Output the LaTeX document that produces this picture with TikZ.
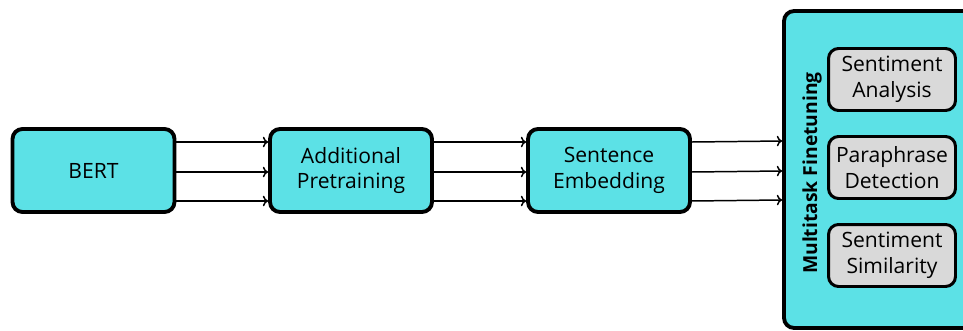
\documentclass[tikz,border=0pt]{standalone}
\usepackage{fontspec}
\setmainfont{Open Sans}
\usetikzlibrary{arrows.meta}

\begin{document}
\begin{tikzpicture}[x=0.02cm,y=-0.02cm,
    stage/.style={draw=black,line width=2.2pt,fill=myCyan,rounded corners=0.2cm,
        minimum width=3.24cm,minimum height=1.66cm,align=center,font=\fontsize{12}{14.5}\selectfont},
    task/.style={draw=black,line width=1.7pt,fill=myGray,rounded corners=0.2cm,
        minimum width=2.54cm,minimum height=1.24cm,align=center,font=\fontsize{12}{14.5}\selectfont},
    flow/.style={line width=0.85pt,-{To[length=3pt,width=6pt]}}]
% Colors define
\definecolor{myCyan}{HTML}{5CE1E6}
\definecolor{myGray}{HTML}{D9D9D9}

\useasboundingbox (0,0) rectangle (963,331);

% Pipeline stages
\node[stage] (bert) at (93.5,170.5) {BERT};
\node[stage] (pretrain) at (351,170.5) {Additional\\Pretraining};
\node[stage] (embed) at (609,170.5) {Sentence\\Embedding};

% Multitask box, running off the right edge
\node[stage,minimum width=4.4cm,minimum height=6.34cm] (multi) at (894,169.5) {};
\node[rotate=90,font=\bfseries\fontsize{11}{13}\selectfont] (multilabel) at (812,173) {Multitask Finetuning};

% Tasks
\node[task] (sa) at (892,79.5) {Sentiment\\Analysis};
\node[task] (pd) at (892,167.5) {Paraphrase\\Detection};
\node[task] (ss) at (892,255.5) {Sentiment\\Similarity};

% Three arrows between neighbouring stages
\foreach \a/\b in {bert/pretrain,pretrain/embed,embed/multi}
    \foreach \dy in {0.57,-0.03,-0.61}
        \draw[flow] ([yshift=\dy cm]\a.east) -- ([yshift=\dy cm]\b.west);
\end{tikzpicture}
\end{document}
